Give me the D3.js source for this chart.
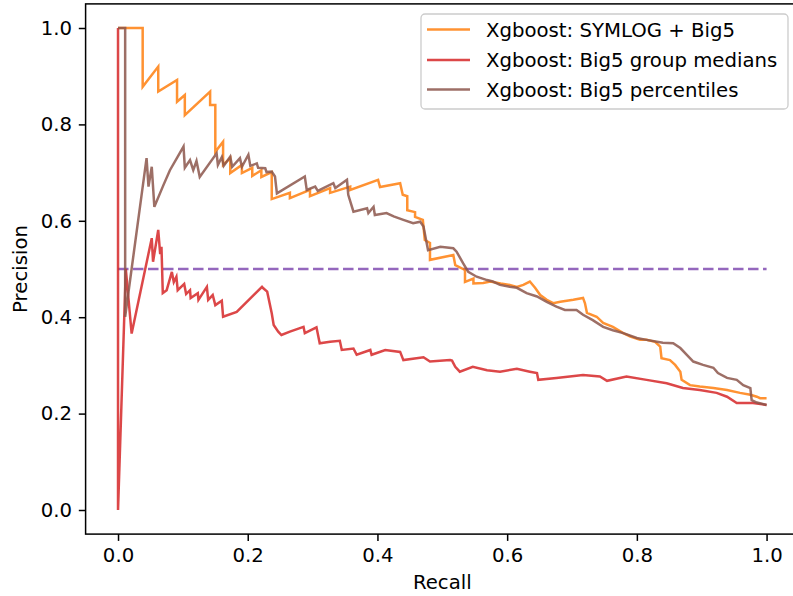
<!DOCTYPE html>
<html>
<head>
<meta charset="utf-8">
<script src="https://cdn.jsdelivr.net/npm/d3@7"></script>
<style>
  html, body { margin: 0; padding: 0; background: #fff; }
  svg { display: block; }
  text { font-family: "DejaVu Sans", sans-serif; }
</style>
</head>
<body>
<svg id="chart" width="793" height="596"></svg>
<script>
// ---------------- data ----------------
const seriesNames = ["Xgboost: SYMLOG + Big5", "Xgboost: Big5 group medians", "Xgboost: Big5 percentiles"];
const seriesColors = ["#ff7f0e", "#d62728", "#8c564b"];

const symlogRecall = [0,0.038,0.038,0.062,0.062,0.091,0.091,0.103,0.103,0.142,0.142,0.150,0.150,0.162,0.162,0.173,0.173,0.191,0.191,0.207,0.207,0.221,0.221,0.237,0.237,0.265,0.265,0.296,0.296,0.327,0.327,0.358,0.358,0.401,0.404,0.435,0.439,0.446,0.446,0.458,0.458,0.470,0.473,0.481,0.481,0.517,0.520,0.535,0.535,0.548,0.548,0.563,0.574,0.590,0.604,0.615,0.625,0.635,0.643,0.651,0.661,0.671,0.682,0.702,0.717,0.720,0.723,0.738,0.748,0.763,0.779,0.790,0.805,0.815,0.828,0.836,0.838,0.851,0.859,0.867,0.869,0.882,0.897,0.918,0.939,0.959,0.975,0.985,0.990,1.0];
const symlogPrecision = [1,1,0.878,0.920,0.868,0.892,0.847,0.861,0.819,0.868,0.840,0.840,0.743,0.764,0.716,0.730,0.699,0.716,0.699,0.710,0.693,0.705,0.691,0.701,0.645,0.658,0.647,0.664,0.651,0.668,0.658,0.671,0.664,0.685,0.670,0.678,0.654,0.651,0.622,0.618,0.608,0.602,0.560,0.554,0.519,0.529,0.508,0.498,0.473,0.480,0.470,0.471,0.474,0.470,0.467,0.463,0.467,0.474,0.461,0.446,0.436,0.429,0.432,0.436,0.440,0.429,0.409,0.401,0.388,0.380,0.367,0.360,0.353,0.353,0.349,0.339,0.315,0.311,0.301,0.287,0.270,0.259,0.256,0.253,0.249,0.243,0.239,0.235,0.232,0.232];

const mediansRecall = [0,0,0.012,0.021,0.052,0.054,0.062,0.065,0.067,0.069,0.075,0.083,0.086,0.090,0.092,0.102,0.105,0.111,0.112,0.123,0.124,0.137,0.139,0.146,0.150,0.160,0.162,0.183,0.222,0.224,0.230,0.237,0.240,0.247,0.252,0.265,0.286,0.288,0.306,0.311,0.327,0.342,0.345,0.363,0.368,0.389,0.391,0.412,0.435,0.440,0.471,0.481,0.512,0.515,0.520,0.527,0.547,0.569,0.589,0.615,0.635,0.646,0.648,0.676,0.717,0.743,0.754,0.784,0.815,0.846,0.871,0.897,0.923,0.939,0.954,0.979,1.0];
const mediansPrecision = [1,0,0.500,0.366,0.564,0.515,0.581,0.531,0.546,0.450,0.456,0.494,0.473,0.484,0.456,0.469,0.448,0.456,0.440,0.450,0.436,0.463,0.436,0.446,0.425,0.434,0.401,0.411,0.463,0.460,0.453,0.408,0.384,0.370,0.363,0.370,0.380,0.367,0.379,0.346,0.349,0.351,0.332,0.335,0.322,0.332,0.322,0.332,0.328,0.311,0.317,0.308,0.311,0.310,0.297,0.287,0.297,0.290,0.287,0.293,0.287,0.284,0.270,0.274,0.280,0.277,0.268,0.277,0.270,0.263,0.253,0.249,0.243,0.235,0.222,0.222,0.218];

const percentilesRecall = [0,0.011,0.011,0.044,0.047,0.052,0.056,0.070,0.080,0.101,0.103,0.111,0.116,0.121,0.126,0.152,0.154,0.160,0.163,0.173,0.176,0.188,0.191,0.201,0.204,0.214,0.216,0.227,0.229,0.237,0.242,0.245,0.288,0.291,0.304,0.308,0.332,0.335,0.353,0.355,0.363,0.384,0.386,0.394,0.396,0.414,0.425,0.440,0.455,0.466,0.471,0.478,0.497,0.517,0.522,0.532,0.540,0.553,0.569,0.578,0.589,0.604,0.615,0.630,0.646,0.661,0.676,0.689,0.707,0.717,0.732,0.748,0.763,0.779,0.800,0.815,0.840,0.856,0.867,0.877,0.887,0.902,0.918,0.925,0.939,0.954,0.964,0.975,0.977,0.985,1.0];
const percentilesPrecision = [1,1,0.401,0.730,0.671,0.712,0.629,0.674,0.705,0.754,0.710,0.726,0.705,0.724,0.691,0.740,0.716,0.732,0.714,0.733,0.712,0.730,0.712,0.737,0.714,0.719,0.710,0.709,0.701,0.702,0.692,0.657,0.692,0.664,0.671,0.662,0.678,0.668,0.685,0.654,0.619,0.626,0.616,0.629,0.612,0.616,0.609,0.602,0.595,0.598,0.588,0.539,0.546,0.543,0.536,0.512,0.494,0.484,0.477,0.474,0.467,0.463,0.461,0.450,0.443,0.432,0.422,0.415,0.415,0.405,0.394,0.380,0.373,0.367,0.357,0.353,0.347,0.346,0.336,0.322,0.308,0.301,0.295,0.284,0.274,0.270,0.259,0.253,0.228,0.223,0.218];

const baselineRecall = [0, 1];
const baselinePrecision = [0.5, 0.5];

const xTicks = [0, 0.2, 0.4, 0.6, 0.8, 1.0];
const yTicks = [0, 0.2, 0.4, 0.6, 0.8, 1.0];
const xLabel = "Recall";
const yLabel = "Precision";

// ---------------- drawing ----------------
const svg = d3.select("#chart");
const FS = 19.7;
const plot = { left: 85.6, right: 799, top: 3.9, bottom: 534.1 };

const x = d3.scaleLinear().domain([-0.05, 1.05]).range([plot.left, plot.right]);
const y = d3.scaleLinear().domain([-0.05, 1.05]).range([plot.bottom, plot.top]);

const defs = svg.append("defs");
defs.append("clipPath").attr("id", "clip")
  .append("rect").attr("x", plot.left).attr("y", plot.top)
  .attr("width", plot.right - plot.left).attr("height", plot.bottom - plot.top);

const g = svg.append("g").attr("clip-path", "url(#clip)");
const line = d3.line().x(d => x(d[0])).y(d => y(d[1]));

const zip = (a, b) => a.map((v, i) => [v, b[i]]);

// baseline
g.append("path")
  .datum(zip(baselineRecall, baselinePrecision))
  .attr("d", line)
  .attr("fill", "none")
  .attr("stroke", "#9467bd")
  .attr("stroke-width", 2.5)
  .attr("stroke-dasharray", "10.5,4.5");

const series = [
  [symlogRecall, symlogPrecision],
  [mediansRecall, mediansPrecision],
  [percentilesRecall, percentilesPrecision]
];
series.forEach((s, i) => {
  g.append("path")
    .datum(zip(s[0], s[1]))
    .attr("d", line)
    .attr("fill", "none")
    .attr("stroke", seriesColors[i])
    .attr("stroke-opacity", 0.85)
    .attr("stroke-width", 2.5)
    .attr("stroke-linejoin", "miter");
});

// axes
const xAxis = d3.axisBottom(x).tickValues(xTicks).tickFormat(d3.format(".1f"))
  .tickSize(6.8).tickPadding(6.8).tickSizeOuter(0);
const yAxis = d3.axisLeft(y).tickValues(yTicks).tickFormat(d3.format(".1f"))
  .tickSize(6.8).tickPadding(6.8).tickSizeOuter(0);

const gx = svg.append("g").attr("transform", `translate(0,${plot.bottom})`).call(xAxis);
const gy = svg.append("g").attr("transform", `translate(${plot.left},0)`).call(yAxis);
[gx, gy].forEach(a => {
  a.select(".domain").remove();
  a.selectAll(".tick line").attr("stroke", "#000").attr("stroke-width", 1.5);
  a.selectAll(".tick text").attr("font-size", FS).attr("fill", "#000")
    .attr("font-family", "DejaVu Sans, sans-serif");
});

// spines
svg.append("rect")
  .attr("x", plot.left).attr("y", plot.top)
  .attr("width", plot.right - plot.left).attr("height", plot.bottom - plot.top)
  .attr("fill", "none").attr("stroke", "#000").attr("stroke-width", 1.5);

// axis labels
svg.append("text").text(xLabel)
  .attr("x", (x(0) + x(1)) / 2).attr("y", 589)
  .attr("text-anchor", "middle").attr("font-size", FS).attr("fill", "#000");
svg.append("text").text(yLabel)
  .attr("transform", `translate(27,${(y(0) + y(1)) / 2}) rotate(-90)`)
  .attr("text-anchor", "middle").attr("font-size", FS).attr("fill", "#000");

// legend
const lg = svg.append("g");
lg.append("rect")
  .attr("x", 421).attr("y", 14).attr("width", 367).attr("height", 95)
  .attr("rx", 4).attr("fill", "#fff").attr("fill-opacity", 0.8)
  .attr("stroke", "#cccccc").attr("stroke-width", 1.3);
const rowsY = [29.5, 60, 89.5];
seriesNames.forEach((name, i) => {
  lg.append("line")
    .attr("x1", 427).attr("x2", 470).attr("y1", rowsY[i]).attr("y2", rowsY[i])
    .attr("stroke", seriesColors[i]).attr("stroke-opacity", 0.85).attr("stroke-width", 2.5);
  lg.append("text").text(name)
    .attr("x", 486).attr("y", rowsY[i]).attr("dy", "0.36em")
    .attr("font-size", FS).attr("fill", "#000");
});
</script>
</body>
</html>
